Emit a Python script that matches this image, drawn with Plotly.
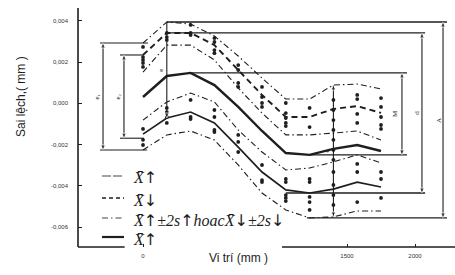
import plotly.graph_objects as go

# ---------------- data (mm) ----------------
positions = [0, 175, 350, 525, 700, 875, 1050, 1225, 1400, 1575, 1750]

upper_max_2s = [0.00293, 0.00395, 0.00385, 0.00327, 0.00230, 0.00123, 0.00021, 0.00021, 0.00089, 0.00094, 0.00070]
upper_mean = [0.00235, 0.00342, 0.00342, 0.00283, 0.00162, 0.00041, -0.00066, -0.00066, -0.00027, -0.00013, -0.00046]
upper_min_2s = [0.00152, 0.00283, 0.00283, 0.00211, 0.00075, -0.00047, -0.00153, -0.00153, -0.00144, -0.00134, -0.00178]
mean_line = [0.00031, 0.00133, 0.00148, 0.00089, -0.00017, -0.00134, -0.00241, -0.00250, -0.00221, -0.00202, -0.00231]
lower_max_2s = [-0.00081, 0.00007, 0.00050, 0.00007, -0.00129, -0.00236, -0.00323, -0.00314, -0.00284, -0.00250, -0.00289]
lower_mean = [-0.00149, -0.00071, -0.00042, -0.00095, -0.00212, -0.00333, -0.00420, -0.00435, -0.00416, -0.00382, -0.00406]
lower_min_2s = [-0.00226, -0.00153, -0.00134, -0.00178, -0.00299, -0.00435, -0.00517, -0.00556, -0.00551, -0.00522, -0.00522]

measured = [
    [0.00274, 0.00225, 0.00211, 0.00196, 0.00177, -0.00124, -0.00177, -0.00202],
    [0.00342, 0.00322, 0.00308, -0.00022, -0.00042, -0.00066, -0.00095],
    [0.00381, 0.00342, 0.00332, 0.00017, -0.00066, -0.00076],
    [0.00317, 0.00298, 0.00259, 0.00244, -0.00032, -0.00066, -0.00129, -0.00139],
    [0.00186, 0.00162, 0.00099, 0.00080, -0.00153, -0.00187, -0.00236],
    [0.00080, 0.00031, 0.00002, -0.00017, -0.00299, -0.00372, -0.00382],
    [0.00002, -0.00047, -0.00071, -0.00095, -0.00110, -0.00367, -0.00382, -0.00445, -0.00459, -0.00474],
    [-0.00022, -0.00115, -0.00367, -0.00382, -0.00454, -0.00479, -0.00517],
    [0.00017, -0.00032, -0.00081, -0.00129, -0.00177, -0.00226, -0.00274, -0.00333, -0.00396, -0.00445, -0.00493],
    [0.00041, 0.00021, -0.00051, -0.00095, -0.00294, -0.00333, -0.00479],
    [0.00026, -0.00017, -0.00066, -0.00105, -0.00124, -0.00333, -0.00367, -0.00459],
]

y_tick_vals = [0.004, 0.002, 0.0, -0.002, -0.004, -0.006]
y_tick_text = ["0,004", "0,002", "0,000", "-0,002", "-0,004", "-0,006"]
x_tick_vals = [0, 1500, 2000]
x_tick_text = ["0", "1500", "2000"]

UP = "<span style='font-family:DejaVu Sans;color:#1e1e1e'>\u2191</span>"
DN = "<span style='font-family:DejaVu Sans;color:#1e1e1e'>\u2193</span>"
XB = "X\u0304"
legend_labels = [XB + UP, XB + DN,
                 XB + UP + "\u00b12s" + UP + "hoac" + XB + DN + "\u00b12s" + DN, XB + UP]

# ---------------- style ----------------
INK = "#1e1e1e"
DASHDOT = "6px,3px,1.5px,3px"
X_RANGE = [-478, 2294]
Y_RANGE = [-0.006971, 0.005019]

W, H, L, B = 455, 275, 78, 28
PW, PH = W - L, H - B


def pxx(x):
    return (x - L) / PW


def pxy(y):
    return (H - B - y) / PH


fig = go.Figure()

line_specs = [
    (upper_max_2s, dict(color=INK, width=1.1, dash=DASHDOT)),
    (upper_mean, dict(color=INK, width=1.9, dash="6px,4px")),
    (upper_min_2s, dict(color=INK, width=1.1, dash=DASHDOT)),
    (mean_line, dict(color=INK, width=2.4)),
    (lower_max_2s, dict(color=INK, width=1.1, dash=DASHDOT)),
    (lower_mean, dict(color=INK, width=1.7)),
    (lower_min_2s, dict(color=INK, width=1.1, dash=DASHDOT)),
]
for vals, ln in line_specs:
    fig.add_trace(go.Scatter(x=positions, y=vals, mode="lines", line=ln,
                             hoverinfo="skip", showlegend=False))

# measurement dots
dx, dy = [], []
for p, col in zip(positions, measured):
    for v in col:
        dx.append(p)
        dy.append(v)
fig.add_trace(go.Scatter(x=dx, y=dy, mode="markers",
                         marker=dict(size=3.8, color=INK), showlegend=False, hoverinfo="skip"))


# ---------------- dimension brackets ----------------
def argext(vals, fn):
    v = fn(vals)
    return positions[vals.index(v)], v


def hline(x0, x1, y, width=1.3):
    fig.add_trace(go.Scatter(x=[x0, x1], y=[y, y], mode="lines",
                             line=dict(color=INK, width=width), showlegend=False, hoverinfo="skip"))


def vdim(x, ytop, ybot, top_arrow=True, bot_arrow=True, label="", lab_dx=-38):
    fig.add_trace(go.Scatter(
        x=[x, x], y=[ytop, ybot], mode="lines+markers",
        line=dict(color=INK, width=1.1),
        marker=dict(symbol=["arrow-up", "arrow-down"], size=[5 if top_arrow else 0, 5 if bot_arrow else 0],
                    color=INK),
        showlegend=False, hoverinfo="skip"))
    if label:
        fig.add_annotation(x=x + lab_dx, y=(ytop + ybot) / 2, text=label, showarrow=False,
                           textangle=-90, font=dict(size=7, color=INK, family="Liberation Serif"))


# A : overall envelope
xa_t, ya_t = argext(upper_max_2s, max)
xa_b, ya_b = argext(lower_min_2s, min)
hline(xa_t, 2235, ya_t)
hline(xa_b - 20, 2235, ya_b)
vdim(2206, ya_t, ya_b, label="A", lab_dx=-30)

# d : mean envelope
xd_t, yd_t = argext(upper_mean, max)
xd_b, yd_b = argext(lower_mean, min)
hline(xd_t, 2074, yd_t)
hline(1050, 2074, yd_b)
vdim(2051, yd_t, yd_b, label="d", lab_dx=-38)

# M : mean line range
xm_t, ym_t = argext(mean_line, max)
xm_b, ym_b = argext(mean_line, min)
hline(xm_t, 1941, ym_t)
hline(xm_b, 1941, ym_b)
vdim(1904, ym_t, ym_b, label="M", lab_dx=-50)

# left brackets at first position
hline(-316, 37, upper_max_2s[0], 1.1)
hline(-316, 30, lower_min_2s[0], 1.1)
vdim(-294, upper_max_2s[0], lower_min_2s[0], label="e\u2081", lab_dx=-44)
hline(-169, 7, upper_mean[0], 1.1)
hline(-169, 7, lower_mean[0] - 0.0002, 1.1)
vdim(-140, upper_mean[0], lower_mean[0] - 0.0002, label="e\u2082", lab_dx=-44)

# vertical guides
vdim(positions[1], upper_max_2s[1], lower_mean[1], top_arrow=False, label="e", lab_dx=-44)
vdim(positions[8], upper_max_2s[8], lower_min_2s[8], label="e", lab_dx=-44)

# ---------------- axes lines ----------------
fig.add_shape(type="line", xref="paper", yref="y", x0=0, x1=0, y0=Y_RANGE[0], y1=0.00463,
              line=dict(color=INK, width=1.6))
fig.add_shape(type="line", xref="x", yref="paper", x0=X_RANGE[0], x1=-135, y0=0, y1=0,
              line=dict(color=INK, width=1.6))
fig.add_shape(type="line", xref="x", yref="paper", x0=1022, x1=X_RANGE[1], y0=0, y1=0,
              line=dict(color=INK, width=1.6))

# ---------------- legend ----------------
leg_rows = [176, 198, 218, 237]
leg_lines = [dict(color="#444", width=1.1, dash="9px,2px"),
             dict(color=INK, width=1.3, dash="4px,3px"),
             dict(color="#444", width=1.1, dash=DASHDOT),
             dict(color=INK, width=2.2)]
for yrow, ln, lab in zip(leg_rows, leg_lines, legend_labels):
    fig.add_shape(type="line", xref="paper", yref="paper", x0=pxx(102), x1=pxx(124),
                  y0=pxy(yrow), y1=pxy(yrow), line=ln)
    fig.add_annotation(xref="paper", yref="paper", x=pxx(131), y=pxy(yrow + 2), text="<i>" + lab + "</i>",
                       showarrow=False, xanchor="left", yanchor="middle",
                       font=dict(size=16, color=INK, family="Liberation Serif, DejaVu Serif"))

# ---------------- titles ----------------
fig.add_annotation(xref="paper", yref="paper", x=pxx(12), y=pxy(97), text="Sai lệch,( mm )",
                   textangle=-90, showarrow=False, font=dict(size=12, color=INK, family="Liberation Sans, Arial"))
fig.add_annotation(xref="paper", yref="paper", x=pxx(238), y=pxy(267), text="Vi trí (mm )",
                   showarrow=False, font=dict(size=12, color=INK, family="Liberation Sans, Arial"))

fig.update_layout(
    width=W, height=H, margin=dict(l=L, r=0, t=0, b=B),
    paper_bgcolor="white", plot_bgcolor="white", showlegend=False,
    xaxis=dict(range=X_RANGE, showgrid=False, zeroline=False, showline=False,
               tickvals=x_tick_vals, ticktext=x_tick_text, ticks="inside", ticklen=3,
               tickcolor=INK, tickfont=dict(size=6, color="#333", family="Liberation Sans"),
               ticklabelstandoff=4),
    yaxis=dict(range=Y_RANGE, showgrid=False, zeroline=False, showline=False,
               tickvals=y_tick_vals, ticktext=y_tick_text, ticks="inside", ticklen=4,
               tickcolor=INK, tickfont=dict(size=6, color="#333", family="Liberation Sans"),
               ticklabelstandoff=9),
)

fig.write_html("out.html")
